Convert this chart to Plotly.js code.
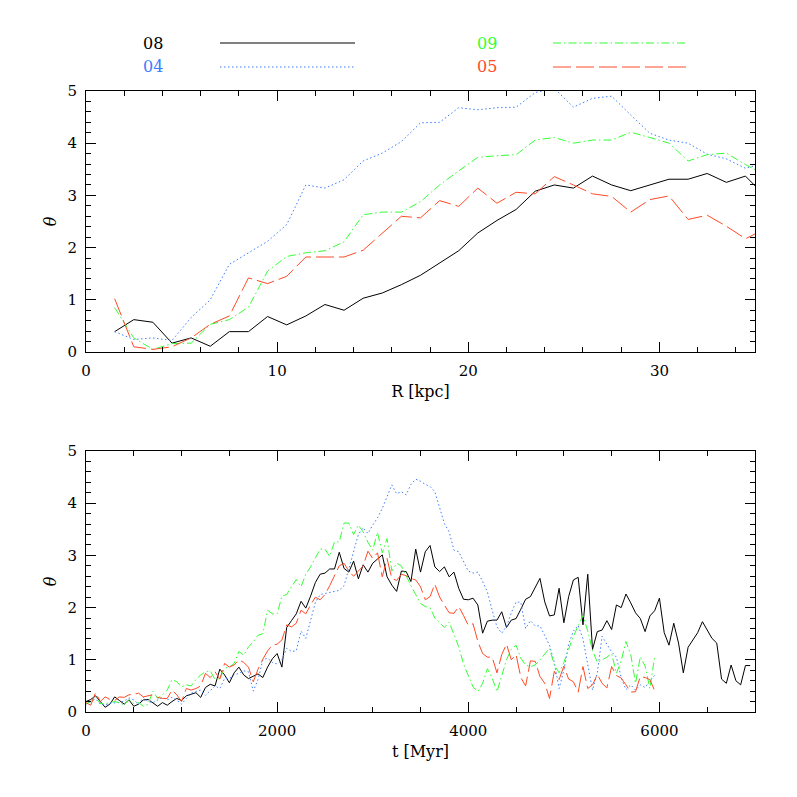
<!DOCTYPE html>
<html>
<head>
<meta charset="utf-8">
<script src="https://cdn.plot.ly/plotly-3.0.1.min.js"></script>
<style>html,body{margin:0;padding:0;background:#fff;}#chart{width:797px;height:797px;}</style>
</head>
<body>
<div id="chart"></div>
<script>
// ---------- Top panel: theta vs R ----------
const R_kpc = [1.5,2.5,3.5,4.5,5.5,6.5,7.5,8.5,9.5,10.5,11.5,12.5,13.5,14.5,15.5,16.5,17.5,18.5,19.5,20.5,21.5,22.5,23.5,24.5,25.5,26.5,27.5,28.5,29.5,30.5,31.5,32.5,33.5,34.5,35.5];
const R_08 = [0.39,0.62,0.57,0.17,0.27,0.11,0.39,0.39,0.68,0.52,0.69,0.91,0.80,1.03,1.13,1.29,1.47,1.71,1.94,2.28,2.52,2.73,3.08,3.20,3.14,3.37,3.20,3.09,3.20,3.31,3.31,3.42,3.25,3.37,3.00];
const R_04 = [0.39,0.24,0.27,0.22,0.66,1.00,1.68,1.90,2.12,2.44,3.20,3.14,3.30,3.66,3.81,4.03,4.39,4.40,4.68,4.64,4.68,4.69,4.97,5.05,4.69,4.86,4.90,4.54,4.19,4.06,4.00,3.79,3.70,3.52,3.62];
const R_09 = [0.85,0.27,0.05,0.16,0.17,0.53,0.62,0.86,1.55,1.83,1.90,1.94,2.11,2.63,2.68,2.68,2.88,3.20,3.47,3.73,3.76,3.78,4.06,4.11,4.00,4.06,4.06,4.21,4.11,4.00,3.66,3.78,3.81,3.59,3.40];
const R_05 = [1.02,0.10,0.05,0.10,0.27,0.53,0.69,1.42,1.31,1.45,1.82,1.82,1.82,1.95,2.28,2.60,2.57,2.90,2.79,3.14,2.85,3.06,3.03,3.36,3.20,3.03,2.98,2.68,2.92,2.99,2.54,2.62,2.41,2.17,2.35];

// ---------- Bottom panel: theta vs t (50 Myr sampling) ----------
const T_08 = [0.20,0.24,0.31,0.20,0.09,0.15,0.29,0.22,0.15,0.23, 0.11,0.15,0.23,0.24,0.18,0.11,0.18,0.13,0.20,0.26,
  0.22,0.31,0.34,0.37,0.28,0.47,0.53,0.50,0.82,0.71, 0.56,0.75,0.86,0.71,0.64,0.68,0.73,0.66,0.86,1.02,
  1.12,0.86,1.62,1.75,1.88,2.12,1.99,2.22,2.48,2.64, 2.66,2.74,2.74,3.06,2.75,2.68,2.89,2.55,2.82,2.68,
  2.85,2.93,3.01,2.59,2.43,2.31,2.70,2.69,2.50,3.12, 2.68,3.07,3.19,2.78,2.69,2.78,2.59,2.68,2.37,2.16,
  2.15,2.18,2.05,1.51,1.74,1.76,1.76,1.92,1.62,1.76, 1.79,1.97,2.16,2.21,2.40,2.56,2.11,1.84,1.86,2.37,
  1.71,2.21,2.53,2.58,1.67,2.64,1.20,1.54,1.57,1.75, 1.58,2.05,2.00,2.26,2.09,1.90,1.79,1.54,1.84,1.94,
  2.18,1.52,1.28,1.70,1.32,0.75,1.24,1.38,1.52,1.73, 1.57,1.41,1.32,0.63,0.55,0.90,0.60,0.52,0.89,0.89];
const T_04 = [0.15,0.20,0.25,0.15,0.13,0.17,0.18,0.18,0.21,0.27, 0.23,0.15,0.28,0.20,0.18,0.23,0.28,0.23,0.28,0.23,
  0.15,0.26,0.36,0.39,0.42,0.32,0.42,0.50,0.45,0.64, 0.64,0.71,0.74,0.79,0.77,0.40,0.62,1.00,1.03,0.95,
  0.92,1.00,1.22,1.16,1.17,1.55,1.41,1.73,2.10,2.25, 2.27,2.30,2.31,2.33,2.42,2.75,3.07,3.40,3.53,3.42,
  3.58,3.72,3.90,4.12,4.35,4.18,4.22,4.16,4.36,4.46, 4.42,4.36,4.32,4.22,3.90,3.61,3.45,3.10,3.07,2.88,
  2.70,2.66,2.68,2.50,2.30,1.95,1.63,1.51,1.64,1.90, 2.11,2.10,1.60,1.75,1.65,1.65,1.45,1.28,0.95,0.45,
  0.80,1.30,1.55,1.66,1.40,0.90,0.42,0.75,1.45,1.30, 1.15,1.05,0.66,0.43,0.52,0.42,0.52,0.47,0.60,0.70];
const T_09 = [0.16,0.20,0.29,0.16,0.16,0.18,0.20,0.18,0.13,0.24, 0.16,0.18,0.11,0.15,0.40,0.26,0.33,0.42,0.62,0.58,
  0.48,0.52,0.50,0.62,0.71,0.77,0.79,0.62,0.64,0.84, 0.86,0.93,1.16,1.09,1.25,1.34,1.47,1.50,1.95,1.88,
  1.88,2.22,2.25,2.40,2.54,2.40,2.64,2.78,2.95,3.12, 3.12,2.98,3.26,3.26,3.62,3.62,3.40,3.58,3.45,3.25,
  3.10,3.44,3.05,3.32,2.70,2.85,2.80,2.60,2.42,2.25, 2.08,2.02,2.00,1.80,1.70,1.62,1.72,1.50,1.25,0.92,
  0.68,0.48,0.39,0.55,0.83,0.65,0.39,0.72,1.00,1.20, 1.28,1.03,0.90,0.87,0.90,1.00,1.10,1.22,0.90,0.75,
  0.95,1.20,1.45,1.65,1.85,1.55,1.18,0.95,1.00,1.05, 1.12,0.74,0.98,1.35,1.10,0.55,1.06,0.88,0.45,1.06];
const T_05 = [0.18,0.13,0.37,0.20,0.29,0.24,0.22,0.29,0.28,0.33, 0.34,0.36,0.29,0.31,0.33,0.28,0.26,0.26,0.42,0.33,
  0.20,0.45,0.42,0.45,0.50,0.74,0.66,0.77,0.63,0.93, 0.86,0.90,1.00,0.95,0.86,0.58,0.82,1.01,1.17,1.28,
  1.30,1.38,1.67,1.63,1.70,1.95,1.88,2.05,2.20,2.15, 2.25,2.42,2.60,2.80,2.85,2.70,2.60,2.70,2.80,3.08,
  2.94,3.05,2.59,2.94,2.56,2.52,2.64,2.61,2.56,2.53, 2.40,2.15,2.21,2.45,2.20,2.05,1.90,1.89,2.02,1.85,
  1.66,1.69,1.35,1.12,1.05,1.05,0.75,1.10,1.30,1.00, 1.10,0.66,0.50,0.98,0.97,0.68,0.55,0.26,0.78,0.62,
  0.88,0.63,0.58,0.38,0.87,0.45,0.52,0.72,0.55,0.46, 0.87,0.70,0.65,0.52,0.38,0.39,0.68,0.66,0.62,0.41];
const T_STEP = 50; // Myr between snapshots
const times = n => Array.from({length:n}, (_, i) => i * T_STEP);

const labels = ['08','04','09','05'];
const colors = {'08':'#000000','04':'#3c7dff','09':'#33ff33','05':'#ff4a26'};
const dashes = {'08':'solid','04':'1.5px,2.5px','09':'8px,3px,1.5px,3px','05':'18px,5px'};
const topData = {'08':R_08,'04':R_04,'09':R_09,'05':R_05};
const botData = {'08':T_08,'04':T_04,'09':T_09,'05':T_05};

const traces = [];
labels.forEach(k => {
  traces.push({x:R_kpc, y:topData[k], xaxis:'x', yaxis:'y', mode:'lines',
    line:{color:colors[k], width:1, dash:dashes[k]}, showlegend:false, hoverinfo:'skip'});
  traces.push({x:times(botData[k].length), y:botData[k], xaxis:'x2', yaxis:'y2', mode:'lines',
    line:{color:colors[k], width:1, dash:dashes[k]}, showlegend:false, hoverinfo:'skip'});
});

const W = 797, H = 797;
const px = v => v / W, py = v => 1 - v / H;
const FONT = 'DejaVu Serif, Liberation Serif, serif';

const axCommon = {
  ticks:'inside', ticklen:10, tickwidth:1, tickcolor:'#000',
  mirror:'allticks', showline:true, linecolor:'#000', linewidth:1,
  showgrid:false, zeroline:false, automargin:false,
  tickfont:{family:FONT, size:15, color:'#000'}, ticklabelstandoff:5
};
const xdom = [px(86), px(755)];

const layout = {
  width:W, height:H, margin:{l:0,r:0,t:0,b:0},
  paper_bgcolor:'#fff', plot_bgcolor:'#fff', showlegend:false,
  xaxis: Object.assign({}, axCommon, {domain:xdom, range:[0,35], anchor:'y', tick0:0, dtick:10,
    minor:{dtick:2, ticklen:5, tickcolor:'#000', ticks:'inside'},
    title:{text:'R [kpc]', font:{family:FONT, size:16, color:'#000'}, standoff:6}}),
  yaxis: Object.assign({}, axCommon, {domain:[py(352), py(91)], range:[0,5], anchor:'x', tick0:0, dtick:1,
    minor:{dtick:0.2, ticklen:5, tickcolor:'#000', ticks:'inside'},
    title:{text:'<i>θ</i>', font:{family:FONT, size:16, color:'#000'}, standoff:6}}),
  xaxis2: Object.assign({}, axCommon, {domain:xdom, range:[0,7000], anchor:'y2', tick0:0, dtick:2000,
    minor:{dtick:500, ticklen:5, tickcolor:'#000', ticks:'inside'},
    title:{text:'t [Myr]', font:{family:FONT, size:16, color:'#000'}, standoff:6}}),
  yaxis2: Object.assign({}, axCommon, {domain:[py(712), py(451)], range:[0,5], anchor:'x2', tick0:0, dtick:1,
    minor:{dtick:0.2, ticklen:5, tickcolor:'#000', ticks:'inside'},
    title:{text:'<i>θ</i>', font:{family:FONT, size:16, color:'#000'}, standoff:6}}),
  annotations:[], shapes:[]
};

// legend drawn as text + line samples above the top panel
const legendPos = {'08':[153,43,220,355], '04':[153,67,220,355], '09':[487,43,553,688], '05':[487,67,553,688]};
labels.forEach(k => {
  const [tx, ty, x0, x1] = legendPos[k];
  layout.annotations.push({xref:'paper', yref:'paper', x:px(tx), y:py(ty), text:k, showarrow:false,
    xanchor:'center', yanchor:'middle', font:{family:FONT, size:16, color:colors[k]}});
  layout.shapes.push({type:'line', xref:'paper', yref:'paper', x0:px(x0), x1:px(x1), y0:py(ty), y1:py(ty),
    line:{color:colors[k], width:1, dash:dashes[k]}});
});

Plotly.newPlot('chart', traces, layout, {staticPlot:true, displayModeBar:false});
</script>
</body>
</html>
